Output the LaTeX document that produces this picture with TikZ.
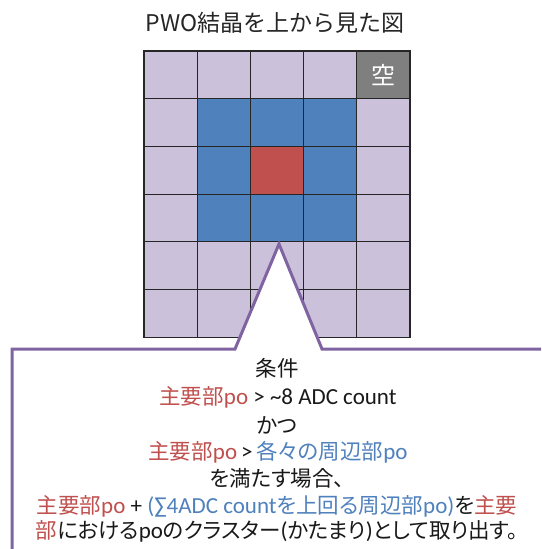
\documentclass[tikz,border=0pt]{standalone}
\usepackage{fontspec}
\setmainfont{Carlito}
\newfontfamily\jpf{Noto Sans CJK JP}[RawFeature={+palt}]
\newfontfamily\jpt{Noto Sans CJK JP}
\definecolor{lav}{HTML}{CCC1DA}
\definecolor{cblue}{HTML}{4F81BD}
\definecolor{cred}{HTML}{C0504D}
\definecolor{cgray}{HTML}{7F7F7F}
\definecolor{cpurple}{HTML}{8064A2}
\definecolor{tred}{HTML}{C0504D}
\definecolor{tblue}{HTML}{4F81BD}
\newcommand{\R}[1]{\textcolor{tred}{#1}}
\newcommand{\B}[1]{\textcolor{tblue}{#1}}
\newcommand{\J}[1]{{\jpf\fontsize{21.5pt}{26pt}\selectfont #1}}
\tikzset{
  cell/.style={draw=black!85, line width=1.2pt, minimum width=53.2pt, minimum height=47.7pt, inner sep=0pt, outer sep=0pt},
  callout/.style={draw=cpurple, line width=3pt, fill=white, line join=miter},
  titletext/.style={font=\jpt\fontsize{23pt}{28pt}\selectfont, text=black!85},
  linetext/.style={font=\fontsize{23pt}{26pt}\selectfont, text=black!90, inner sep=0pt, anchor=center}
}
\begin{document}
\begin{tikzpicture}[x=1pt,y=-1pt]
\useasboundingbox (0,0) rectangle (541,549);
\node[titletext] (title) at (275,23) {PWO結晶を上から見た図};
% grid
\foreach \r in {1,...,6}{
  \foreach \c in {1,...,5}{
    \node[cell, fill=lav] (c\r\c) at ({144+53.2*(\c-0.5)},{51+47.7*(\r-0.5)}) {};
  }
}
\foreach \r/\c in {2/2,2/3,2/4,3/2,3/4,4/2,4/3,4/4}{
  \node[cell, fill=cblue] (b\r\c) at ({144+53.2*(\c-0.5)},{51+47.7*(\r-0.5)}) {};
}
\node[cell, fill=cred] (center) at ({144+53.2*2.5},{51+47.7*2.5}) {};
\node[cell, fill=cgray, text=white, font=\jpt\fontsize{24pt}{28pt}\selectfont] (empty) at ({144+53.2*4.5},{51+47.7*0.5}) {空};
% callout
\begin{scope}
\clip (0,0) rectangle (541,549);
\draw[callout] (12,570) -- (12,349) -- (235,349) -- (279,244) -- (322,349) -- (570,349) -- (570,570) -- cycle;
\end{scope}
\node[linetext] (l1) at (277,368) {\J{条件}};
\node[linetext] (l2) at (278,397) {\R{\J{主要部}po} > \textasciitilde8 ADC count};
\node[linetext] (l3) at (277,425) {\J{かつ}};
\node[linetext] (l4) at (278,452) {\R{\J{主要部}po}\,>\,\B{\J{各々の周辺部}po}};
\node[linetext] (l5) at (277,478) {\J{を満たす場合、}};
\node[linetext] (l6) at (277,506) {\R{\J{主要部}po} + \B{(∑4ADC count\J{を上回る周辺部}po)}\J{を}\R{\J{主要}}};
\node[linetext] (l7) at (277,531) {\R{\J{部}}\J{における}po\J{のクラスター}(\J{かたまり})\J{として取り出す。}};
\end{tikzpicture}
\end{document}
